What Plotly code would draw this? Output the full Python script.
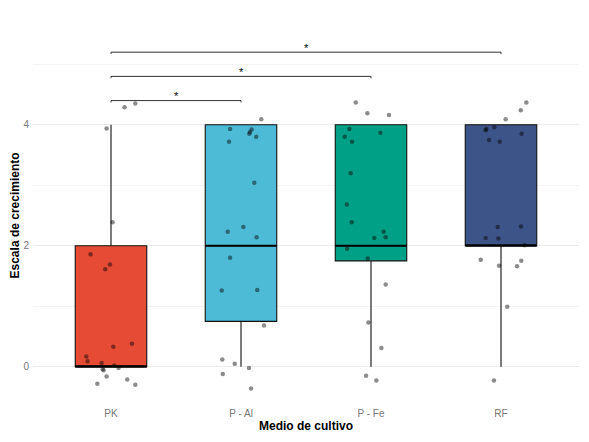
import plotly.graph_objects as go

categories = ["PK", "P - Al", "P - Fe", "RF"]
fill_colors = ["#E64B35", "#4DBBD5", "#00A087", "#3C5488"]

q1 = [0, 0.75, 1.75, 2]
median = [0, 2, 2, 2]
q3 = [2, 4, 4, 4]
lower = [0, 0, 0, 0]
upper = [4, 4, 4, 4]

# jittered observations: (x jitter offset, jittered value)
pk_dx = [0.104, 0.187, -0.034, 0.012, -0.157, -0.008, -0.044, 0.161, 0.018, -0.190,
         -0.180, -0.072, 0.025, 0.058, -0.064, -0.057, -0.034, 0.125, -0.105, 0.187]
pk_y = [4.29, 4.35, 3.94, 2.39, 1.86, 1.69, 1.61, 0.38, 0.33, 0.17,
        0.09, 0.06, 0.02, -0.02, -0.04, -0.06, -0.16, -0.21, -0.28, -0.30]
pal_dx = [0.156, -0.084, 0.082, 0.069, 0.064, 0.117, -0.092, 0.102, 0.018, -0.102,
          0.120, -0.084, -0.148, 0.125, 0.177, -0.144, -0.048, 0.061, -0.140, 0.077]
pal_y = [4.09, 3.93, 3.92, 3.88, 3.85, 3.80, 3.72, 3.04, 2.31, 2.23,
         2.14, 1.80, 1.26, 1.27, 0.68, 0.12, 0.05, -0.02, -0.12, -0.36]
pfe_dx = [-0.117, -0.028, 0.138, -0.166, 0.072, -0.202, -0.146, -0.156, -0.186, -0.148,
          0.097, 0.026, 0.113, -0.184, -0.025, 0.113, -0.020, 0.080, -0.038, 0.041]
pfe_y = [4.37, 4.19, 4.16, 3.93, 3.87, 3.80, 3.72, 3.20, 2.68, 2.39,
         2.23, 2.13, 2.14, 1.95, 1.79, 1.36, 0.73, 0.31, -0.15, -0.23]
rf_dx = [0.195, 0.152, 0.036, -0.113, -0.052, -0.118, 0.159, -0.092, -0.010, -0.025,
         0.154, -0.118, -0.021, 0.182, -0.156, 0.156, -0.015, 0.123, 0.048, -0.054]
rf_y = [4.37, 4.24, 4.09, 3.93, 3.96, 3.91, 3.85, 3.75, 3.72, 2.31,
        2.32, 2.13, 2.12, 2.01, 1.77, 1.75, 1.67, 1.66, 0.99, -0.23]

jitter_dx = [pk_dx, pal_dx, pfe_dx, rf_dx]
jitter_y = [pk_y, pal_y, pfe_y, rf_y]

# significance comparisons
comp_from = [1, 1, 1]
comp_to = [2, 3, 4]
comp_y = [4.40, 4.80, 5.20]
comp_label = ["*", "*", "*"]

x_title = "Medio de cultivo"
y_title = "Escala de crecimiento"

box_w = 0.55
fig = go.Figure()

for i, cat in enumerate(categories):
    xpos = i + 1
    fig.add_trace(go.Box(
        x=[xpos], q1=[q1[i]], median=[median[i]], q3=[q3[i]],
        lowerfence=[lower[i]], upperfence=[upper[i]],
        width=box_w, fillcolor=fill_colors[i],
        line=dict(color="#111111", width=1.1), whiskerwidth=0,
        boxpoints=False, showlegend=False, hoverinfo="skip"))
    fig.add_trace(go.Scatter(
        x=[xpos - box_w / 2, xpos + box_w / 2], y=[median[i], median[i]],
        mode="lines", line=dict(color="black", width=2.2),
        showlegend=False, hoverinfo="skip"))

for i in range(len(categories)):
    fig.add_trace(go.Scatter(
        x=[i + 1 + d for d in jitter_dx[i]], y=jitter_y[i], mode="markers",
        marker=dict(color="black", size=4.5, opacity=0.45, line=dict(width=0)),
        showlegend=False, hoverinfo="skip"))

tick = 0.03
for a, b, yy, lab in zip(comp_from, comp_to, comp_y, comp_label):
    fig.add_trace(go.Scatter(
        x=[a, a, b, b], y=[yy - tick, yy, yy, yy - tick], mode="lines",
        line=dict(color="#333333", width=1), showlegend=False, hoverinfo="skip"))
    fig.add_annotation(x=(a + b) / 2, y=yy + 0.07, text=lab, showarrow=False,
                       font=dict(size=11, color="black", family="Liberation Sans"),
                       yanchor="middle", xanchor="center")

fig.add_annotation(text="<b>%s</b>" % x_title, xref="paper", yref="paper",
                   x=0.5, y=-0.0613, xanchor="center", yanchor="middle",
                   showarrow=False, font=dict(size=12, color="black"))
fig.add_annotation(text="<b>%s</b>" % y_title, xref="paper", yref="paper",
                   x=-0.033, y=0.5, xanchor="center", yanchor="middle", textangle=-90,
                   showarrow=False, font=dict(size=12, color="black"))

fig.update_layout(
    width=589, height=442,
    margin=dict(l=25, r=18, t=20, b=47, autoexpand=False),
    plot_bgcolor="white", paper_bgcolor="white",
    font=dict(family="Liberation Sans, Arial, sans-serif"),
    showlegend=False,
)
fig.update_xaxes(
    range=[0.4, 4.6], tickmode="array", tickvals=[1, 2, 3, 4], ticktext=categories,
    showgrid=False, zeroline=False, showline=False, automargin=False,
    ticks="outside", ticklen=1, tickcolor="rgba(0,0,0,0)",
    tickfont=dict(size=10, color="#777777"),
)
fig.update_yaxes(
    range=[-0.6, 5.6], tickmode="array", tickvals=[0, 2, 4], ticktext=["0", "2", "4"],
    showgrid=True, gridcolor="#ebebeb", gridwidth=1, zeroline=False, showline=False,
    automargin=False,
    minor=dict(tickmode="array", tickvals=[1, 3, 5], showgrid=True, gridcolor="#f4f4f4", gridwidth=0.6),
    ticks="outside", ticklen=1, tickcolor="rgba(0,0,0,0)",
    tickfont=dict(size=10, color="#777777"),
)

fig.write_html("out.html")
